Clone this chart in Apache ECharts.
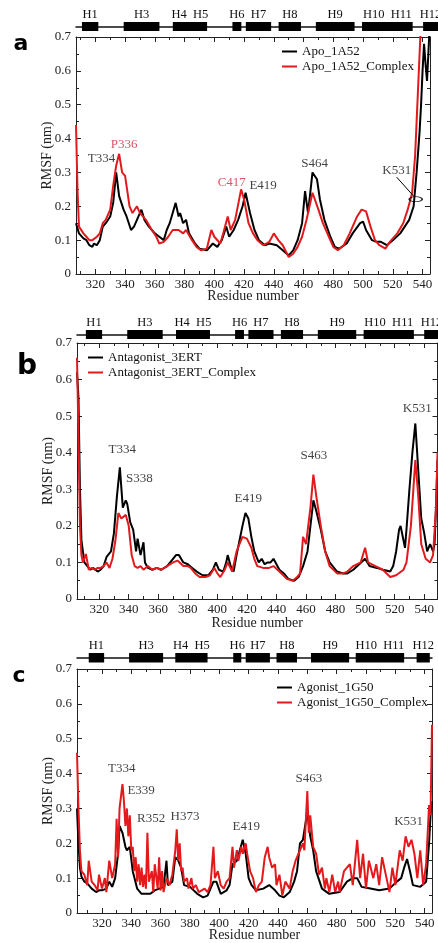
<!DOCTYPE html>
<html>
<head>
<meta charset="utf-8"/>
<title>RMSF</title>
<script src="https://cdn.jsdelivr.net/npm/echarts@6/dist/echarts.min.js"></script>
<style>
  html, body { margin: 0; padding: 0; background: #fff; }
  #main { width: 438px; height: 943px; }
</style>
</head>
<body>
<div id="main"></div>
<script>
// ---- data (residue, RMSF nm) ----
var apo = [[307,0.15],[309,0.12],[312,0.105],[314,0.10],[316,0.085],[318,0.08],[319,0.09],[321,0.085],[323,0.10],[325,0.14],[327,0.15],[330,0.17],[332,0.21],[334,0.30],[336,0.23],[339,0.19],[341,0.17],[344,0.13],[346,0.14],[349,0.17],[351,0.19],[353,0.16],[356,0.14],[360,0.12],[363,0.11],[366,0.10],[368,0.13],[370,0.15],[372,0.18],[374,0.21],[376,0.17],[377,0.18],[379,0.15],[381,0.16],[383,0.12],[387,0.09],[390,0.075],[395,0.07],[399,0.09],[402,0.08],[405,0.10],[408,0.14],[410,0.11],[413,0.13],[416,0.16],[419,0.20],[421,0.24],[424,0.18],[427,0.13],[430,0.10],[434,0.085],[437,0.09],[442,0.085],[446,0.07],[450,0.055],[453,0.07],[456,0.10],[459,0.15],[461,0.245],[463,0.18],[466,0.30],[469,0.28],[471,0.22],[474,0.16],[478,0.11],[481,0.08],[484,0.075],[489,0.09],[493,0.12],[498,0.15],[500,0.155],[502,0.13],[506,0.10],[509,0.095],[512,0.095],[516,0.085],[520,0.10],[525,0.12],[528,0.14],[531,0.16],[534,0.20],[536,0.30],[537,0.36],[538,0.42],[539,0.50],[540,0.60],[541,0.68],[542,0.62],[543,0.57],[544,0.66],[545,0.75]];
var apoCx = [[307,0.44],[308,0.25],[309,0.14],[312,0.12],[314,0.11],[316,0.10],[318,0.10],[321,0.11],[323,0.12],[325,0.15],[327,0.16],[330,0.19],[332,0.26],[334,0.32],[336,0.355],[338,0.30],[340,0.29],[343,0.20],[345,0.18],[348,0.20],[350,0.18],[352,0.17],[354,0.16],[358,0.13],[361,0.11],[363,0.09],[366,0.095],[369,0.11],[372,0.13],[376,0.13],[379,0.12],[381,0.13],[385,0.10],[388,0.08],[391,0.07],[395,0.075],[398,0.13],[400,0.11],[404,0.09],[406,0.12],[409,0.17],[411,0.13],[414,0.16],[418,0.25],[420,0.22],[423,0.15],[426,0.12],[429,0.10],[433,0.085],[437,0.095],[440,0.12],[443,0.10],[446,0.085],[450,0.05],[453,0.06],[456,0.08],[459,0.11],[462,0.16],[466,0.24],[470,0.19],[473,0.15],[477,0.11],[480,0.08],[483,0.07],[487,0.085],[491,0.12],[496,0.17],[499,0.19],[502,0.185],[505,0.14],[508,0.10],[511,0.085],[515,0.075],[518,0.095],[523,0.12],[527,0.15],[530,0.19],[533,0.24],[535,0.35],[536,0.45],[537,0.55],[538,0.65],[539,0.75]];

var ant = [[305,0.62],[306,0.55],[307,0.30],[308,0.16],[310,0.10],[312,0.09],[314,0.08],[316,0.085],[319,0.075],[321,0.08],[323,0.09],[325,0.115],[328,0.13],[330,0.18],[332,0.28],[334,0.36],[336,0.25],[338,0.27],[339,0.26],[341,0.21],[343,0.19],[345,0.13],[346,0.165],[348,0.12],[350,0.155],[351,0.10],[353,0.085],[356,0.08],[359,0.085],[362,0.08],[366,0.09],[370,0.11],[372,0.12],[374,0.12],[377,0.10],[380,0.095],[383,0.085],[386,0.075],[390,0.065],[394,0.065],[397,0.08],[399,0.10],[401,0.08],[404,0.075],[406,0.10],[407,0.12],[409,0.09],[411,0.075],[413,0.12],[415,0.16],[417,0.20],[419,0.235],[421,0.22],[423,0.17],[425,0.13],[428,0.10],[430,0.11],[432,0.095],[434,0.10],[436,0.10],[438,0.11],[440,0.095],[442,0.08],[445,0.07],[448,0.055],[452,0.05],[455,0.06],[458,0.09],[461,0.13],[463,0.20],[465,0.27],[467,0.24],[470,0.19],[473,0.13],[476,0.10],[481,0.075],[485,0.07],[488,0.07],[492,0.08],[496,0.095],[500,0.11],[503,0.09],[508,0.085],[512,0.08],[517,0.075],[519,0.09],[521,0.13],[523,0.19],[524,0.20],[526,0.16],[527,0.14],[528,0.19],[530,0.30],[532,0.40],[534,0.48],[536,0.35],[538,0.22],[540,0.18],[542,0.13],[544,0.15],[546,0.13],[547,0.15],[548,0.25],[549,0.38]];
var antCx = [[305,0.66],[306,0.45],[307,0.20],[308,0.12],[309,0.10],[311,0.123],[313,0.08],[315,0.085],[317,0.08],[319,0.085],[321,0.085],[323,0.09],[325,0.10],[327,0.085],[329,0.11],[331,0.16],[333,0.235],[335,0.22],[336,0.215],[338,0.23],[340,0.20],[342,0.12],[344,0.09],[346,0.085],[348,0.09],[350,0.08],[353,0.09],[356,0.08],[359,0.085],[362,0.08],[366,0.09],[370,0.10],[373,0.105],[377,0.09],[380,0.09],[382,0.085],[385,0.07],[388,0.06],[392,0.06],[395,0.065],[398,0.085],[400,0.07],[402,0.06],[405,0.08],[407,0.10],[410,0.075],[413,0.13],[415,0.15],[417,0.17],[420,0.165],[423,0.14],[425,0.11],[427,0.09],[431,0.085],[435,0.085],[438,0.09],[442,0.075],[447,0.055],[451,0.05],[454,0.06],[456,0.07],[458,0.17],[460,0.15],[463,0.25],[465,0.34],[467,0.28],[470,0.20],[473,0.13],[476,0.09],[481,0.07],[485,0.07],[488,0.075],[492,0.09],[497,0.10],[500,0.14],[502,0.10],[507,0.09],[512,0.08],[517,0.06],[521,0.065],[526,0.08],[528,0.10],[531,0.20],[533,0.32],[534,0.38],[536,0.28],[538,0.15],[541,0.11],[544,0.10],[546,0.12],[548,0.25],[549,0.40]];

var ago = [[303,0.30],[304,0.20],[305,0.13],[306,0.105],[308,0.09],[310,0.085],[313,0.07],[316,0.06],[318,0.065],[320,0.065],[323,0.07],[325,0.09],[327,0.075],[329,0.10],[331,0.17],[332,0.25],[334,0.23],[336,0.19],[337,0.18],[339,0.19],[341,0.12],[344,0.07],[347,0.055],[350,0.055],[353,0.055],[356,0.065],[359,0.07],[362,0.075],[364,0.15],[365,0.08],[368,0.09],[370,0.16],[372,0.15],[374,0.13],[376,0.08],[380,0.075],[385,0.055],[389,0.045],[392,0.05],[396,0.09],[398,0.09],[401,0.055],[405,0.065],[407,0.08],[409,0.14],[412,0.15],[414,0.18],[416,0.21],[418,0.17],[420,0.10],[422,0.08],[425,0.065],[430,0.07],[434,0.08],[438,0.065],[441,0.05],[444,0.045],[448,0.06],[451,0.09],[453,0.12],[455,0.20],[457,0.21],[460,0.29],[462,0.22],[464,0.18],[466,0.12],[470,0.07],[475,0.055],[482,0.06],[487,0.09],[491,0.10],[494,0.10],[497,0.075],[503,0.07],[509,0.065],[516,0.07],[521,0.09],[524,0.10],[526,0.13],[528,0.155],[530,0.12],[532,0.08],[537,0.075],[541,0.09],[543,0.20],[544,0.28],[545,0.32]];
var agoCx = [[303,0.46],[304,0.30],[305,0.18],[306,0.12],[308,0.11],[310,0.08],[311,0.15],[313,0.09],[315,0.08],[317,0.065],[318,0.11],[320,0.07],[322,0.10],[323,0.06],[325,0.15],[327,0.10],[329,0.14],[330,0.27],[331,0.16],[332,0.30],[334,0.37],[335,0.32],[336,0.25],[337,0.30],[338,0.22],[339,0.28],[340,0.18],[341,0.19],[342,0.12],[343,0.16],[344,0.09],[345,0.14],[346,0.08],[347,0.13],[348,0.075],[349,0.11],[350,0.07],[351,0.23],[352,0.09],[354,0.12],[355,0.06],[356,0.14],[358,0.07],[359,0.16],[360,0.065],[361,0.12],[362,0.06],[364,0.10],[366,0.08],[368,0.11],[370,0.18],[371,0.24],[372,0.15],[373,0.20],[374,0.12],[375,0.13],[376,0.09],[378,0.10],[379,0.07],[381,0.10],[382,0.07],[384,0.08],[386,0.06],[388,0.065],[390,0.07],[392,0.06],[394,0.08],[396,0.19],[397,0.10],[399,0.12],[401,0.08],[403,0.07],[405,0.09],[407,0.10],[409,0.19],[410,0.13],[412,0.18],[413,0.15],[415,0.19],[416,0.17],[418,0.20],[419,0.17],[421,0.12],[423,0.10],[425,0.06],[427,0.08],[429,0.09],[431,0.16],[433,0.19],[434,0.16],[436,0.13],[438,0.14],[439,0.08],[441,0.11],[443,0.05],[445,0.09],[448,0.07],[450,0.12],[452,0.15],[455,0.18],[457,0.20],[458,0.18],[460,0.35],[461,0.23],[462,0.28],[464,0.19],[466,0.17],[468,0.11],[470,0.13],[472,0.07],[473,0.10],[475,0.06],[477,0.11],[479,0.06],[481,0.09],[482,0.06],[485,0.12],[489,0.14],[491,0.08],[494,0.21],[496,0.10],[498,0.17],[500,0.07],[502,0.15],[505,0.10],[507,0.14],[509,0.08],[511,0.16],[514,0.10],[516,0.06],[518,0.13],[520,0.08],[523,0.18],[525,0.15],[527,0.22],[529,0.19],[531,0.21],[533,0.17],[535,0.10],[537,0.18],[539,0.08],[541,0.14],[543,0.31],[544,0.28],[545,0.54]];

// helix segments [start, end] and names
var helixAB = [[311,322],[339,363],[372,395],[412,418],[421,438],[443,458],[468,494],[499,533],[540,550]];
var helixC = [[311,321.5],[338.5,361.7],[370,392],[409.5,415],[418,434.5],[439,453],[462.5,488.5],[493,526],[534.5,543.5]];
var helixNames = ['H1','H3','H4  H5','H6','H7','H8','H9','H10  H11','H12'];

// residue labels [text, residue, rmsf, colour]
var labelsA = [['T334',324.2,0.34,'k'],['P336',339.4,0.381,'r'],['C417',411.7,0.27,'r'],['E419',432.8,0.261,'k'],['S464',467.5,0.325,'k'],['K531',522.6,0.305,'k']];
var labelsB = [['T334',335.6,0.409,'k'],['S338',347.2,0.33,'k'],['E419',420.9,0.275,'k'],['S463',465.3,0.392,'k'],['K531',535.3,0.52,'k']];
var labelsC = [['T334',333.5,0.414,'k'],['E339',346.7,0.35,'k'],['R352',353.5,0.272,'k'],['H373',376.6,0.277,'k'],['E419',418.4,0.249,'k'],['S463',461,0.385,'k'],['K531',529.1,0.261,'k']];
var pointerA = [[522.6,0.286],[534,0.23]];
var ringA = [[535.4,0.221]];

var xTicks = [320,340,360,380,400,420,440,460,480,500,520,540];
var xMinor = [310,330,350,370,390,410,430,450,470,490,510,530,550];

var BLACK = '#000', RED = '#e3191c', LABELRED = '#d0283a';
var SERIF = 'Liberation Serif';

var panels = [
  { xmin: 307, xmax: 545, grid: {left: 76, top: 37, right: 8, height: 237},
    hgrid: {left: 76, top: 22, right: 0, height: 9}, hmax: 550, helix: helixAB,
    names: ['Apo_1A52', 'Apo_1A52_Complex'], data: [apo, apoCx], labels: labelsA,
    legend: {left: 277, top: 40}, nameGap: 15 },
  { xmin: 305, xmax: 549, grid: {left: 77, top: 343, right: 0.5, height: 256},
    hgrid: {left: 77, top: 330, right: 0.5, height: 9}, hmax: 549, helix: helixAB,
    names: ['Antagonist_3ERT', 'Antagonist_3ERT_Complex'], data: [ant, antCx], labels: labelsB,
    legend: {left: 83, top: 346}, nameGap: 17 },
  { xmin: 303, xmax: 545, grid: {left: 77, top: 669, right: 6, height: 247},
    hgrid: {left: 77, top: 653, right: 6, height: 9.5}, hmax: 545, helix: helixC,
    names: ['Agonist_1G50', 'Agonist_1G50_Complex'], data: [ago, agoCx], labels: labelsC,
    legend: {left: 272, top: 676}, nameGap: 15 }
];

var grid = [], xAxis = [], yAxis = [], series = [], legend = [];
var lineStyle = {color: '#222', width: 1};
var tickStyle = {color: '#222', width: 1};

panels.forEach(function (p, i) {
  grid.push(p.grid, p.hgrid);
  var g = 2 * i, xb = 5 * i, yb = 3 * i;
  var base = {type: 'value', gridIndex: g, min: p.xmin, max: p.xmax, splitLine: {show: false}};
  // bottom major
  xAxis.push(Object.assign({}, base, {
    position: 'bottom', axisLine: {lineStyle: lineStyle},
    axisTick: {inside: true, length: 5, lineStyle: tickStyle, customValues: xTicks},
    axisLabel: {customValues: xTicks, margin: 4, color: '#222', fontFamily: SERIF, fontSize: 13},
    name: 'Residue number', nameLocation: 'middle', nameGap: p.nameGap, nameMoveOverlap: false,
    nameTextStyle: {fontFamily: SERIF, fontSize: 14, color: '#222'}
  }));
  // bottom minor
  xAxis.push(Object.assign({}, base, {
    position: 'bottom', axisLine: {show: false}, axisLabel: {show: false},
    axisTick: {inside: true, length: 3, lineStyle: tickStyle, customValues: xMinor}
  }));
  // top major
  xAxis.push(Object.assign({}, base, {
    position: 'top', axisLine: {lineStyle: lineStyle}, axisLabel: {show: false},
    axisTick: {inside: true, length: 5, lineStyle: tickStyle, customValues: xTicks}
  }));
  // top minor
  xAxis.push(Object.assign({}, base, {
    position: 'top', axisLine: {show: false}, axisLabel: {show: false},
    axisTick: {inside: true, length: 3, lineStyle: tickStyle, customValues: xMinor}
  }));
  // helix strip axis (its line is the backbone)
  xAxis.push({type: 'value', gridIndex: g + 1, min: p.xmin, max: p.hmax, splitLine: {show: false},
    axisLine: {onZero: true, lineStyle: {color: '#111', width: 1.5}}, axisTick: {show: false}, axisLabel: {show: false}});

  var ybase = {type: 'value', gridIndex: g, min: 0, max: 0.7, interval: 0.1, splitLine: {show: false},
    axisLine: {show: true, lineStyle: lineStyle},
    axisTick: {inside: true, length: 5, lineStyle: tickStyle},
    minorTick: {show: true, splitNumber: 2, length: 3, lineStyle: tickStyle}};
  yAxis.push(Object.assign({}, ybase, {
    position: 'left',
    axisLabel: {margin: 5, color: '#222', fontFamily: SERIF, fontSize: 13,
      formatter: function (v) { return v === 0 ? '0' : v.toFixed(1); }},
    name: 'RMSF (nm)', nameLocation: 'middle', nameGap: 22, nameMoveOverlap: false,
    nameTextStyle: {fontFamily: SERIF, fontSize: 14, color: '#222'}
  }));
  yAxis.push(Object.assign({}, ybase, {position: 'right', axisLabel: {show: false}}));
  yAxis.push({type: 'value', gridIndex: g + 1, min: -1, max: 1, show: false});

  // helix boxes
  series.push({
    type: 'custom', xAxisIndex: xb + 4, yAxisIndex: yb + 2, silent: true, clip: false,
    encode: {x: [0, 1]},
    data: p.helix,
    renderItem: function (params, api) {
      var s = api.coord([api.value(0), 1]);
      var e = api.coord([api.value(1), -1]);
      return {type: 'group', children: [
        {type: 'rect', shape: {x: s[0], y: s[1], width: e[0] - s[0], height: e[1] - s[1]}, style: {fill: '#000'}},
        {type: 'text', style: {text: helixNames[params.dataIndex], x: (s[0] + e[0]) / 2, y: s[1] - 1,
          align: 'center', verticalAlign: 'bottom', font: '12.5px "Liberation Serif"', fill: '#111'}}
      ]};
    }
  });

  // RMSF lines
  [BLACK, RED].forEach(function (c, k) {
    series.push({
      type: 'line', name: p.names[k], xAxisIndex: xb, yAxisIndex: yb,
      data: p.data[k], showSymbol: false, symbol: 'none', silent: true,
      color: c, lineStyle: {color: c, width: 2}, z: 3 + k
    });
  });

  // residue labels
  series.push({
    type: 'scatter', xAxisIndex: xb, yAxisIndex: yb, silent: true, symbolSize: 1,
    itemStyle: {color: 'rgba(0,0,0,0)'}, z: 6,
    data: p.labels.map(function (d) {
      return {name: d[0], value: [d[1], d[2]],
        label: {show: true, position: 'inside', formatter: '{b}', fontFamily: SERIF, fontSize: 13,
          color: d[3] === 'r' ? LABELRED : '#111'}};
    })
  });

  legend.push({
    data: p.names, orient: 'vertical', left: p.legend.left, top: p.legend.top,
    icon: 'rect', itemWidth: 15, itemHeight: 2, itemGap: 2, selectedMode: false,
    textStyle: {fontFamily: SERIF, fontSize: 13, color: '#111'}
  });
});

// K531 pointer in panel a
series.push({type: 'line', xAxisIndex: 0, yAxisIndex: 0, data: pointerA, symbol: 'none', silent: true,
  lineStyle: {color: '#000', width: 1}, z: 7});
series.push({type: 'scatter', xAxisIndex: 0, yAxisIndex: 0, data: ringA, symbol: 'circle', symbolSize: [13, 5],
  silent: true, itemStyle: {color: 'rgba(0,0,0,0)', borderColor: '#000', borderWidth: 1.2}, z: 7});

var letters = [['a', 21, 44, 22], ['b', 27, 367, 28], ['c', 19, 676, 22]];

var myChart = echarts.init(document.getElementById('main'));
myChart.setOption({
  animation: false,
  backgroundColor: '#fff',
  grid: grid,
  xAxis: xAxis,
  yAxis: yAxis,
  legend: legend,
  series: series,
  graphic: letters.map(function (l) {
    return {type: 'text', x: l[1], y: l[2], style: {text: l[0], align: 'center', verticalAlign: 'middle',
      font: 'bold ' + l[3] + 'px "DejaVu Sans"', fill: '#000'}};
  })
});
</script>
</body>
</html>
